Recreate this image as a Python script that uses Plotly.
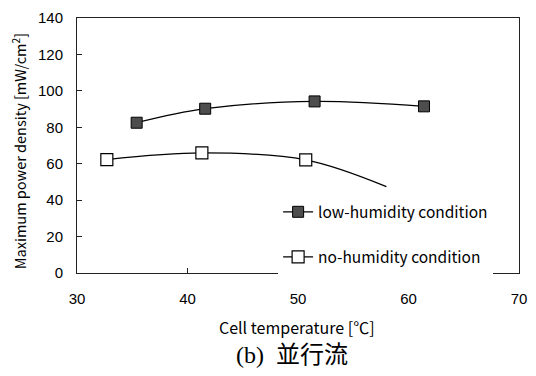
import plotly.graph_objects as go

# Data
low_x = [35.4, 41.6, 51.5, 61.4]
low_y = [82.5, 90.2, 94.2, 91.5]
no_x = [32.7, 41.3, 50.7]
no_y = [62.3, 65.9, 62.1]
no_trend_x = [32.7, 41.3, 50.7, 58.0]
no_trend_y = [62.3, 65.9, 62.1, 47.4]
x_ticks = [30, 40, 50, 60, 70]
y_ticks = [0, 20, 40, 60, 80, 100, 120, 140]

fig = go.Figure()

# Low-humidity: line + filled squares
fig.add_trace(go.Scatter(
    x=low_x, y=low_y, mode="lines+markers", name="low-humidity condition",
    line=dict(color="black", width=1.3, shape="spline", smoothing=1),
    marker=dict(symbol="square", size=11, color="#4d4d4d",
                line=dict(color="black", width=1)),
    legendgroup="a"))

# No-humidity: smoothed trend line (extends beyond last marker)
fig.add_trace(go.Scatter(
    x=no_trend_x, y=no_trend_y, mode="lines", showlegend=False,
    line=dict(color="black", width=1.3, shape="spline", smoothing=1),
    hoverinfo="skip"))
fig.add_trace(go.Scatter(
    x=no_x, y=no_y, mode="markers", showlegend=False,
    marker=dict(symbol="square", size=12, color="white",
                line=dict(color="black", width=1.2))))
# legend entry for no-humidity
fig.add_trace(go.Scatter(
    x=[None], y=[None], mode="lines+markers", name="no-humidity condition",
    line=dict(color="black", width=1.3),
    marker=dict(symbol="square", size=12, color="white",
                line=dict(color="black", width=1.2)),
    legendgroup="b"))

axis_common = dict(
    showline=True, linecolor="#222", linewidth=1, mirror=True,
    ticks="inside", ticklen=5, tickcolor="#222",
    showgrid=False, zeroline=False,
    tickfont=dict(family="Liberation Sans, Arial, sans-serif", size=15, color="black"),
)

fig.update_xaxes(range=[30, 70], tickvals=x_ticks, ticklabelstandoff=12, **axis_common)
fig.update_yaxes(range=[0, 140], tickvals=y_ticks, ticklabelstandoff=10, **axis_common)

title_font = "Noto Sans CJK JP, Liberation Sans, sans-serif"

fig.update_layout(
    width=536, height=376,
    margin=dict(l=77, r=9, t=16, b=103),
    paper_bgcolor="white", plot_bgcolor="white",
    showlegend=True,
    legend=dict(x=0.455, y=0.305, xanchor="left", yanchor="top",
                bgcolor="white", borderwidth=0,
                font=dict(family=title_font, size=15.5, color="black"),
                traceorder="grouped", tracegroupgap=22, itemwidth=30),
    annotations=[
        dict(text="Maximum power density [mW/cm<sup>2</sup>]", xref="paper", yref="paper",
             x=-0.131, y=0.478, xanchor="center", yanchor="middle",
             textangle=-90, showarrow=False,
             font=dict(family=title_font, size=14.5, color="black")),
        dict(text="Cell temperature [℃]", xref="paper", yref="paper",
             x=0.497, y=-0.21, xanchor="center", yanchor="middle", showarrow=False,
             font=dict(family=title_font, size=16, color="black")),
        dict(text="(b)  並行流", xref="paper", yref="paper",
             x=0.487, y=-0.322, xanchor="center", yanchor="middle", showarrow=False,
             font=dict(family="Liberation Serif, Noto Sans CJK JP, serif", size=24, color="black")),
    ],
)

fig.write_html("out.html")
